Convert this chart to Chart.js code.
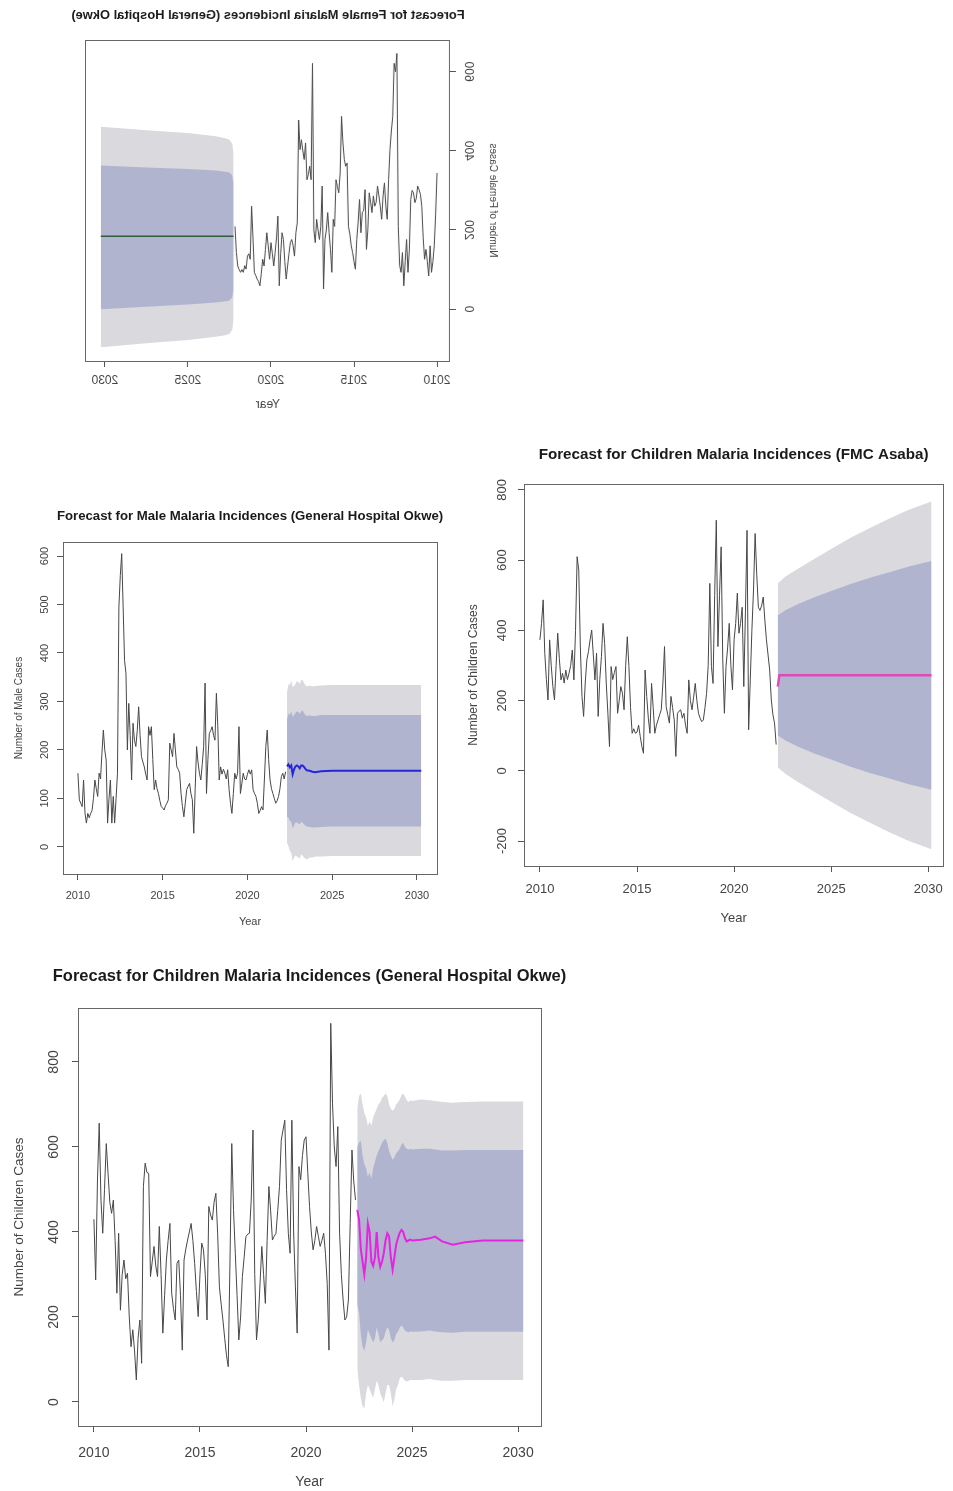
<!DOCTYPE html>
<html>
<head>
<meta charset="utf-8">
<title>Malaria incidence forecasts</title>
<script src="https://cdn.jsdelivr.net/npm/chart.js@4.4.1/dist/chart.umd.min.js"></script>
<style>
  html, body { margin: 0; padding: 0; background: #fff; }
  body { position: relative; width: 953px; height: 1491px; overflow: hidden; }
  canvas { position: absolute; }
  #female { left: 40px; top: 0px; transform: scaleX(-1); }
  #male { left: 0px; top: 500px; }
  #fmc { left: 460px; top: 440px; }
  #okwe { left: 0px; top: 950px; }
</style>
</head>
<body>
<canvas id="female" width="470" height="420"></canvas>
<canvas id="male" width="450" height="440"></canvas>
<canvas id="fmc" width="493" height="490"></canvas>
<canvas id="okwe" width="580" height="541"></canvas>
<script>
// monthly series start in Jan 2010, forecast points are months counted from Jan 2010
const yearTicks = [2010, 2015, 2020, 2025, 2030];

// Female, General Hospital Okwe
const femaleCases = [344, 240, 160, 120, 93, 160, 84, 120, 151, 126, 180, 260, 290, 302, 311, 280, 269, 294, 300, 277,
  150, 93, 176, 120, 59, 143, 93, 110, 209, 646, 600, 621, 487, 450, 403, 327, 227, 260, 319, 286,
  227, 260, 286, 311, 270, 260, 286, 244, 270, 294, 200, 151, 302, 250, 244, 193, 277, 220, 176, 101,
  120, 143, 160, 190, 209, 369, 361, 378, 420, 487, 344, 294, 310, 327, 209, 227, 93, 150, 193, 244,
  200, 176, 51, 311, 209, 176, 200, 227, 168, 200, 621, 327, 361, 340, 327, 420, 378, 400, 428, 403,
  478, 218, 193, 134, 160, 176, 168, 140, 109, 76, 120, 176, 193, 140, 59, 235, 180, 143, 109, 140,
  168, 126, 160, 193, 151, 109, 126, 90, 59, 70, 76, 85, 93, 180, 260, 126, 140, 134, 101, 110,
  93, 100, 93, 100, 109, 143, 209];
const femaleFcMonths = [147, 148, 150, 153, 160, 180, 210, 243];
const femaleMean = [184, 184, 184, 184, 184, 184, 184, 184];
const femaleUp95 = [395, 418, 428, 432, 437, 445, 452, 461];
const femaleUp80 = [320, 338, 345, 347, 350, 354, 358, 363];
const femaleLo80 = [48, 30, 22, 20, 17, 12, 6, 0];
const femaleLo95 = [-28, -52, -62, -66, -70, -78, -86, -96];

// Male, General Hospital Okwe
const maleCases = [152, 97, 90, 83, 138, 70, 49, 69, 60, 69, 75, 100, 138, 120, 104, 152, 140, 193, 241, 200,
  179, 49, 100, 138, 49, 104, 49, 100, 152, 495, 560, 605, 495, 385, 358, 200, 296, 230, 138, 255,
  220, 207, 240, 289, 230, 186, 175, 165, 150, 138, 248, 230, 248, 180, 118, 138, 120, 110, 95, 83,
  80, 76, 85, 90, 97, 214, 200, 186, 234, 200, 165, 160, 152, 110, 83, 62, 90, 118, 125, 131,
  110, 97, 28, 120, 207, 175, 152, 138, 170, 207, 338, 110, 180, 234, 240, 248, 230, 220, 317, 250,
  138, 165, 150, 160, 152, 140, 159, 118, 90, 69, 110, 152, 140, 152, 248, 110, 130, 152, 140, 138,
  150, 159, 150, 159, 118, 110, 104, 90, 69, 75, 83, 76, 140, 207, 241, 180, 138, 120, 110, 100,
  90, 95, 104, 120, 145, 152, 140, 155];
const maleFcMonths = [148, 149, 150, 151, 152, 153, 154, 155, 156, 157, 158, 159, 160, 161, 162, 164, 166, 168, 172, 180, 200, 243];
const maleMean = [166, 170, 164, 168, 150, 160, 166, 168, 166, 162, 168, 168, 165, 161, 158, 157, 155, 154, 156, 157, 157, 157];
const maleUp95 = [318, 336, 334, 343, 330, 332, 336, 342, 340, 336, 344, 345, 338, 334, 331, 333, 331, 332, 333, 334, 334, 334];
const maleUp80 = [262, 275, 272, 280, 268, 272, 276, 280, 278, 274, 280, 282, 276, 272, 270, 271, 270, 270, 272, 272, 272, 272];
const maleLo80 = [62, 60, 54, 52, 38, 44, 50, 50, 48, 46, 52, 50, 46, 44, 42, 41, 40, 40, 41, 42, 42, 42];
const maleLo95 = [8, 2, -8, -12, -30, -22, -18, -20, -22, -24, -16, -18, -22, -24, -26, -22, -22, -20, -20, -19, -19, -19];

// Children, FMC Asaba
const fmcCases = [373, 420, 487, 335, 260, 202, 373, 300, 240, 202, 300, 392, 320, 259, 278, 250, 287, 260, 278, 300,
  344, 259, 400, 610, 572, 350, 212, 155, 250, 316, 340, 373, 401, 330, 259, 335, 155, 260, 325, 420,
  363, 250, 164, 69, 297, 260, 280, 297, 164, 200, 240, 221, 174, 300, 382, 297, 180, 107, 120, 107,
  110, 130, 98, 70, 50, 287, 212, 150, 107, 249, 180, 107, 130, 145, 160, 174, 250, 354, 183, 160,
  136, 212, 180, 145, 41, 164, 170, 174, 150, 164, 130, 107, 259, 200, 174, 210, 249, 200, 164, 150,
  140, 145, 180, 221, 300, 534, 297, 249, 500, 714, 354, 500, 638, 316, 164, 297, 350, 420, 300, 231,
  373, 420, 506, 392, 420, 466, 240, 450, 685, 117, 259, 400, 515, 676, 560, 466, 457, 470, 495, 430,
  373, 330, 287, 202, 160, 136, 75];
const fmcFcMonths = [147, 148, 152, 160, 170, 180, 192, 204, 216, 228, 242];
const fmcMean = [240, 272, 272, 272, 272, 272, 272, 272, 272, 272, 272];
const fmcUp95 = [534, 538, 554, 577, 605, 632, 664, 692, 719, 744, 767];
const fmcUp80 = [444, 446, 458, 476, 495, 512, 532, 550, 566, 582, 598];
const fmcLo80 = [100, 98, 86, 68, 49, 32, 12, -6, -22, -38, -54];
const fmcLo95 = [10, 6, -10, -33, -61, -88, -120, -148, -175, -200, -223];

// Children, General Hospital Okwe
const okweCases = [430, 287, 520, 656, 475, 397, 500, 608, 538, 470, 444, 475, 380, 256, 397, 216, 300, 334, 290, 303,
  200, 130, 170, 120, 52, 150, 193, 91, 507, 562, 540, 538, 295, 330, 366, 320, 295, 413, 300, 162,
  250, 334, 380, 420, 256, 220, 193, 326, 334, 250, 122, 334, 360, 381, 400, 420, 380, 326, 260, 201,
  300, 374, 358, 300, 193, 460, 440, 428, 470, 491, 397, 271, 230, 193, 150, 110, 83, 334, 608, 450,
  350, 250, 146, 200, 295, 340, 389, 395, 397, 475, 640, 300, 146, 193, 280, 366, 300, 232, 380, 507,
  450, 381, 390, 397, 450, 507, 616, 640, 663, 500, 397, 350, 663, 400, 271, 162, 554, 523, 580, 616,
  624, 540, 460, 400, 358, 380, 413, 390, 366, 380, 397, 350, 279, 122, 891, 703, 600, 554, 648, 397,
  300, 240, 193, 200, 240, 420, 593, 520, 475];
const okweFcMonths = [149, 150, 151, 152, 153, 154, 155, 156, 157, 158, 159, 160, 161, 162, 163, 164, 165, 166, 167, 168,
  169, 170, 171, 172, 173, 174, 175, 176, 177, 178, 179, 180, 185, 190, 193, 197, 203, 210, 220, 243];
const okweMean = [452, 430, 360, 330, 300, 340, 420, 400, 330, 320, 340, 400, 340, 318, 330, 350, 380, 397, 390, 340,
  311, 340, 370, 385, 398, 405, 400, 385, 378, 380, 382, 380, 382, 385, 389, 378, 370, 376, 380, 380];
const okweUp95 = [690, 720, 726, 700, 680, 670, 650, 660, 650, 670, 680, 690, 700, 705, 715, 720, 726, 720, 700, 690,
  685, 690, 700, 705, 712, 722, 726, 718, 710, 706, 710, 708, 712, 710, 708, 706, 704, 706, 707, 707];
const okweUp80 = [600, 610, 615, 580, 560, 550, 530, 540, 525, 550, 565, 580, 590, 600, 610, 615, 620, 610, 590, 580,
  570, 575, 585, 590, 596, 605, 610, 600, 596, 594, 596, 594, 596, 596, 594, 592, 592, 593, 593, 593];
const okweLo80 = [230, 210, 160, 130, 120, 140, 170, 160, 150, 140, 150, 175, 160, 140, 145, 150, 165, 175, 170, 150,
  140, 145, 160, 165, 175, 180, 175, 168, 165, 164, 166, 165, 166, 168, 166, 164, 163, 165, 165, 165];
const okweLo95 = [80, 40, 10, -10, -15, 20, 40, 30, 20, 10, 30, 50, 40, 20, 10, 0, 20, 40, 40, 20,
  -10, 5, 30, 40, 55, 60, 55, 50, 48, 50, 52, 52, 52, 54, 52, 50, 50, 52, 52, 52];

const FONT = '"Liberation Sans", Arial, Helvetica, sans-serif';
Chart.defaults.font.family = FONT;

function monthly(values) {
  return values.map((v, i) => ({ x: 2010 + i / 12, y: v }));
}

function atMonths(months, values) {
  return months.map((m, i) => ({ x: 2010 + m / 12, y: values[i] }));
}

// box round the plot, main title and R style upright y labels
const rFrame = {
  id: 'rFrame',
  afterDraw(chart, args, o) {
    const { ctx, chartArea: a } = chart;
    const y = chart.scales.y;
    ctx.save();
    ctx.strokeStyle = '#666';
    ctx.lineWidth = 1;
    ctx.strokeRect(Math.round(a.left) + 0.5, Math.round(a.top) + 0.5, Math.round(a.width), Math.round(a.height));
    ctx.textAlign = 'center';
    ctx.textBaseline = 'middle';
    ctx.fillStyle = '#1a1a1a';
    ctx.font = 'bold ' + o.titleSize + 'px ' + FONT;
    ctx.fillText(o.title, (a.left + a.right) / 2, o.titleY);
    ctx.fillStyle = '#444';
    ctx.font = o.tickSize + 'px ' + FONT;
    o.yTicks.forEach(v => {
      ctx.save();
      ctx.translate(o.yLabelX, y.getPixelForValue(v));
      ctx.rotate(-Math.PI / 2);
      ctx.fillText(String(v), 0, 0);
      ctx.restore();
    });
    ctx.restore();
  }
};

function band(months, hi, lo, color, order) {
  return [
    { data: atMonths(months, hi), fill: '+1', backgroundColor: color, borderColor: 'rgba(0,0,0,0)', borderWidth: 0, pointRadius: 0, order: order },
    { data: atMonths(months, lo), fill: false, borderColor: 'rgba(0,0,0,0)', borderWidth: 0, pointRadius: 0, order: order }
  ];
}

function forecastChart(id, s) {
  return new Chart(document.getElementById(id), {
    type: 'line',
    data: {
      datasets: [
        ...band(s.fcMonths, s.up95, s.lo95, '#d9d9de', 4),
        ...band(s.fcMonths, s.up80, s.lo80, '#b1b4cf', 3),
        { data: monthly(s.cases), borderColor: '#474747', borderWidth: 1, pointRadius: 0, fill: false, order: 2 },
        { data: atMonths(s.fcMonths, s.mean), borderColor: s.meanColor, borderWidth: s.meanWidth, pointRadius: 0, fill: false, order: 1 }
      ]
    },
    options: {
      responsive: false,
      animation: false,
      events: [],
      layout: { autoPadding: false, padding: { left: 0, right: s.padRight, top: s.padTop, bottom: 0 } },
      elements: { line: { tension: 0 } },
      plugins: {
        legend: { display: false },
        tooltip: { enabled: false },
        rFrame: { title: s.title, titleSize: s.titleSize, titleY: s.titleY, tickSize: s.tickSize, yTicks: s.yTicks, yLabelX: s.yLabelX }
      },
      scales: {
        x: {
          type: 'linear', min: s.xMin, max: s.xMax,
          afterBuildTicks: sc => { sc.ticks = yearTicks.map(v => ({ value: v })); },
          afterFit: sc => { sc.height = s.xAxisH; },
          border: { display: false },
          grid: { drawOnChartArea: false, tickLength: 6, color: '#555' },
          ticks: { autoSkip: false, maxRotation: 0, padding: s.xTickPad, color: '#444', font: { size: s.tickSize }, callback: v => String(v) },
          title: { display: true, text: 'Year', color: '#444', font: { size: s.tickSize }, padding: { top: 0, bottom: s.xTitlePad } }
        },
        y: {
          type: 'linear', min: s.yMin, max: s.yMax,
          afterBuildTicks: sc => { sc.ticks = s.yTicks.map(v => ({ value: v })); },
          afterFit: sc => { sc.width = s.yAxisW; },
          border: { display: false },
          grid: { drawOnChartArea: false, tickLength: 6, color: '#555' },
          ticks: { display: false },
          title: { display: true, text: s.yTitle, color: '#444', font: { size: s.yTitleSize }, padding: { top: s.yTitlePad, bottom: 0 } }
        }
      }
    },
    plugins: [rFrame]
  });
}

forecastChart('female', {
  title: 'Forecast for Female Malaria Incidences (General Hospital Okwe)', titleSize: 12.9, titleY: 15,
  cases: femaleCases, fcMonths: femaleFcMonths, mean: femaleMean,
  up95: femaleUp95, lo95: femaleLo95, up80: femaleUp80, lo80: femaleLo80,
  meanColor: '#2f5d3a', meanWidth: 1.6,
  xMin: 2009.22, xMax: 2031.14, yMin: -131, yMax: 680, yTicks: [0, 200, 400, 600],
  padRight: 46, padTop: 40, yAxisW: 60, xAxisH: 59,
  tickSize: 12, xTickPad: 6, xTitlePad: 8, yLabelX: 42,
  yTitle: 'Number of Female Cases', yTitleSize: 10, yTitlePad: 11
});

forecastChart('male', {
  title: 'Forecast for Male Malaria Incidences (General Hospital Okwe)', titleSize: 13.2, titleY: 16,
  cases: maleCases, fcMonths: maleFcMonths, mean: maleMean,
  up95: maleUp95, lo95: maleLo95, up80: maleUp80, lo80: maleLo80,
  meanColor: '#2626d9', meanWidth: 2,
  xMin: 2009.12, xMax: 2031.18, yMin: -56, yMax: 629, yTicks: [0, 100, 200, 300, 400, 500, 600],
  padRight: 13, padTop: 42, yAxisW: 63, xAxisH: 66,
  tickSize: 11, xTickPad: 9, xTitlePad: 11, yLabelX: 45,
  yTitle: 'Number of Male Cases', yTitleSize: 10, yTitlePad: 13
});

forecastChart('fmc', {
  title: 'Forecast for Children Malaria Incidences (FMC Asaba)', titleSize: 15.2, titleY: 15,
  cases: fmcCases, fcMonths: fmcFcMonths, mean: fmcMean,
  up95: fmcUp95, lo95: fmcLo95, up80: fmcUp80, lo80: fmcLo80,
  meanColor: '#e04ab4', meanWidth: 2.5,
  xMin: 2009.18, xMax: 2030.77, yMin: -271, yMax: 817, yTicks: [-200, 0, 200, 400, 600, 800],
  padRight: 8, padTop: 44, yAxisW: 64, xAxisH: 64,
  tickSize: 13, xTickPad: 10, xTitlePad: 4, yLabelX: 42,
  yTitle: 'Number of Children Cases', yTitleSize: 12, yTitlePad: 6
});

forecastChart('okwe', {
  title: 'Forecast for Children Malaria Incidences (General Hospital Okwe)', titleSize: 16.5, titleY: 26,
  cases: okweCases, fcMonths: okweFcMonths, mean: okweMean,
  up95: okweUp95, lo95: okweLo95, up80: okweUp80, lo80: okweLo80,
  meanColor: '#e524e0', meanWidth: 2,
  xMin: 2009.25, xMax: 2031.08, yMin: -56.5, yMax: 927, yTicks: [0, 200, 400, 600, 800],
  padRight: 39, padTop: 58, yAxisW: 78, xAxisH: 65,
  tickSize: 14, xTickPad: 12.6, xTitlePad: 0.6, yLabelX: 54,
  yTitle: 'Number of Children Cases', yTitleSize: 13.5, yTitlePad: 11.5
});
</script>
</body>
</html>
